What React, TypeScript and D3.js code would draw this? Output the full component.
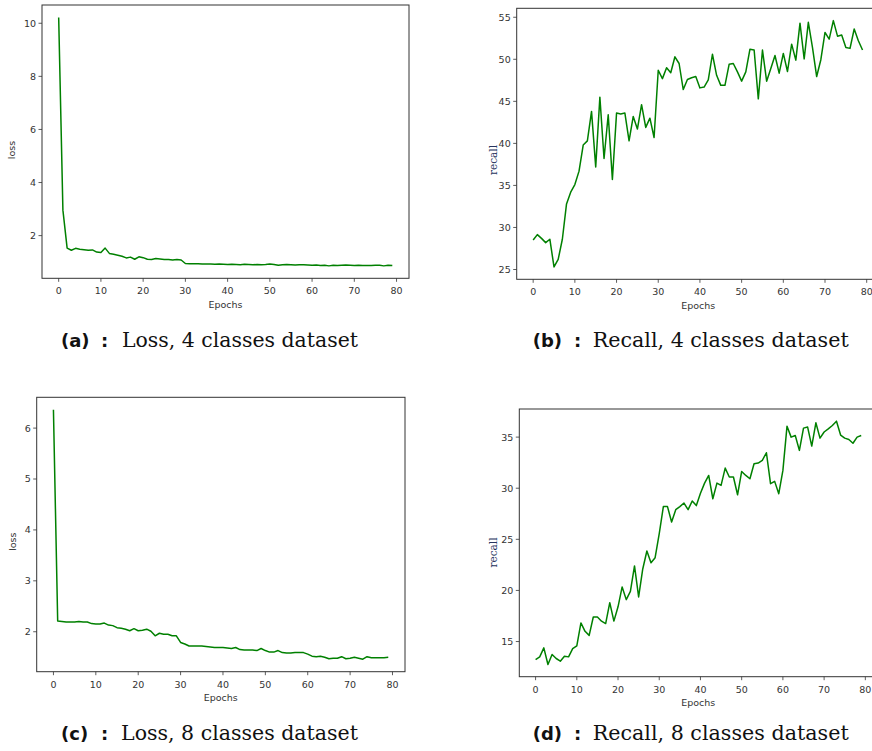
import React from 'react';
import * as d3 from 'd3';

const xTickValues = [0, 10, 20, 30, 40, 50, 60, 70, 80];

const lossTicks4 = [2, 4, 6, 8, 10];
const recallTicks4 = [25, 30, 35, 40, 45, 50, 55];
const lossTicks8 = [2, 3, 4, 5, 6];
const recallTicks8 = [15, 20, 25, 30, 35];

const loss4 = [10.22, 2.96, 1.53, 1.45, 1.52, 1.49, 1.47, 1.45, 1.46, 1.38,
  1.36, 1.53, 1.33, 1.30, 1.26, 1.22, 1.16, 1.19, 1.11, 1.20,
  1.17, 1.11, 1.10, 1.14, 1.12, 1.10, 1.10, 1.08, 1.10, 1.08,
  0.95, 0.94, 0.94, 0.94, 0.93, 0.93, 0.93, 0.92, 0.93, 0.92,
  0.91, 0.92, 0.91, 0.90, 0.92, 0.91, 0.90, 0.91, 0.90, 0.91,
  0.93, 0.91, 0.88, 0.90, 0.91, 0.90, 0.89, 0.90, 0.90, 0.89,
  0.88, 0.89, 0.87, 0.88, 0.86, 0.88, 0.87, 0.88, 0.89, 0.88,
  0.87, 0.88, 0.87, 0.87, 0.87, 0.88, 0.88, 0.86, 0.88, 0.87];

const recall4 = [28.5, 29.15, 28.7, 28.2, 28.6, 25.3, 26.2, 28.6, 32.8, 34.2,
  35.1, 36.7, 39.8, 40.3, 43.8, 37.2, 45.5, 38.2, 43.4, 35.7,
  43.6, 43.5, 43.6, 40.3, 43.2, 41.7, 44.6, 41.9, 43.0, 40.7,
  48.7, 47.7, 49.0, 48.4, 50.3, 49.5, 46.4, 47.6, 47.8, 47.95,
  46.6, 46.7, 47.55, 50.6, 48.1, 46.9, 46.9, 49.4, 49.5, 48.5,
  47.4, 48.5, 51.2, 51.1, 45.3, 51.1, 47.4, 48.9, 50.45, 48.35,
  50.7, 48.55, 51.8, 49.9, 54.3, 50.05, 54.4, 51.4, 47.95, 49.95,
  53.2, 52.4, 54.6, 52.75, 52.9, 51.4, 51.3, 53.6, 52.2, 51.1];

const loss8 = [6.36, 2.21, 2.20, 2.19, 2.19, 2.19, 2.20, 2.19, 2.19, 2.16,
  2.15, 2.15, 2.17, 2.13, 2.12, 2.08, 2.07, 2.05, 2.02, 2.06,
  2.02, 2.03, 2.05, 2.01, 1.92, 1.97, 1.95, 1.95, 1.92, 1.92,
  1.79, 1.76, 1.72, 1.72, 1.72, 1.72, 1.71, 1.70, 1.69, 1.69,
  1.69, 1.68, 1.67, 1.69, 1.65, 1.64, 1.64, 1.64, 1.63, 1.67,
  1.63, 1.60, 1.60, 1.63, 1.59, 1.58, 1.58, 1.59, 1.59, 1.59,
  1.56, 1.52, 1.51, 1.52, 1.50, 1.47, 1.48, 1.48, 1.51, 1.47,
  1.48, 1.50, 1.48, 1.46, 1.51, 1.49, 1.49, 1.49, 1.49, 1.50];

const recall8 = [13.24, 13.5, 14.38, 12.75, 13.73, 13.34, 13.08, 13.57, 13.5, 14.3,
  14.58, 16.82, 16.0, 15.6, 17.4, 17.4, 16.99, 16.76, 18.8, 17.0,
  18.4, 20.34, 19.1, 19.9, 22.4, 19.36, 22.1, 23.86, 22.7, 23.2,
  25.55, 28.2, 28.2, 26.7, 27.9, 28.2, 28.55, 27.9, 28.75, 28.3,
  29.5, 30.5, 31.25, 28.97, 30.5, 30.28, 31.97, 31.1, 31.1, 29.36,
  31.64, 31.25, 30.93, 32.4, 32.46, 32.72, 33.47, 30.44, 30.67, 29.46,
  31.74, 36.07, 35.0, 35.16, 33.7, 35.88, 35.98, 34.12, 36.4, 34.9,
  35.5, 35.8, 36.14, 36.56, 35.2, 34.9, 34.77, 34.4, 35.0, 35.16];

const captionTags = ['(a)', '(b)', '(c)', '(d)'];
const captionTexts = ['Loss, 4 classes dataset', 'Recall, 4 classes dataset', 'Loss, 8 classes dataset', 'Recall, 8 classes dataset'];
const yLabels = ['loss', 'recall', 'loss', 'recall'];

type PanelCfg = {
  left: number; right: number; top: number; bottom: number;
  data: number[]; yTicks: number[]; ylabel: string; serifLabel: boolean;
  ylabelX: number; ylabelY: number; xlabelX: number; xlabelY: number;
  tag: string; caption: string; tagX: number; colonX: number; capX: number; capW: number; capY: number;
};

const SANS = "'DejaVu Sans', sans-serif";
const SERIF = "'DejaVu Serif', serif";
const AX = '#333333';

function Panel({ c }: { c: PanelCfg }) {
  const n = c.data.length;
  const xPad = (n - 1) * 0.05;
  const x = d3.scaleLinear().domain([-xPad, n - 1 + xPad]).range([c.left, c.right]);
  const [mn, mx] = d3.extent(c.data) as [number, number];
  const yPad = (mx - mn) * 0.05;
  const y = d3.scaleLinear().domain([mn - yPad, mx + yPad]).range([c.bottom, c.top]);
  const line = d3.line<number>().x((_, i) => x(i)).y((d) => y(d));
  return (
    <g>
      <path d={line(c.data) || ''} fill="none" stroke="#008000" strokeWidth={1.5} strokeLinejoin="round" />
      <rect x={c.left} y={c.top} width={c.right - c.left} height={c.bottom - c.top} fill="none" stroke={AX} strokeWidth={1} />
      {xTickValues.map((t) => (
        <g key={'x' + t}>
          <line x1={x(t)} x2={x(t)} y1={c.bottom} y2={c.bottom + 3.5} stroke={AX} strokeWidth={0.8} />
          <text x={x(t)} y={c.bottom + 16} textAnchor="middle" fontFamily={SANS} fontSize={9.5} fill={AX}>{t}</text>
        </g>
      ))}
      {c.yTicks.map((t) => (
        <g key={'y' + t}>
          <line x1={c.left - 3.5} x2={c.left} y1={y(t)} y2={y(t)} stroke={AX} strokeWidth={0.8} />
          <text x={c.left - 6} y={y(t) + 3.4} textAnchor="end" fontFamily={SANS} fontSize={9.5} fill={AX}>{t}</text>
        </g>
      ))}
      <text x={c.xlabelX} y={c.xlabelY} textAnchor="middle" fontFamily={SANS} fontSize={9.5} fill={AX}>Epochs</text>
      <text transform={`translate(${c.ylabelX},${c.ylabelY}) rotate(-90)`} textAnchor="middle"
        fontFamily={c.serifLabel ? SERIF : SANS} fontSize={c.serifLabel ? 10.5 : 9.5}
        fill={c.serifLabel ? '#27345e' : AX}>{c.ylabel}</text>
      <text x={c.tagX} y={c.capY} fontFamily={SANS} fontWeight="bold" fontSize={18} fill="#111">{c.tag}</text>
      <text x={c.colonX} y={c.capY} fontFamily={SANS} fontWeight="bold" fontSize={18} fill="#111">:</text>
      <text x={c.capX} y={c.capY} fontFamily={SERIF} fontSize={20.5} fill="#111"
        textLength={c.capW} lengthAdjust="spacingAndGlyphs">{c.caption}</text>
    </g>
  );
}

export default function App() {
  const panels: PanelCfg[] = [
    { left: 42, right: 409, top: 5, bottom: 278.3, data: loss4, yTicks: lossTicks4, ylabel: yLabels[0], serifLabel: false,
      ylabelX: 15, ylabelY: 150, xlabelX: 225.5, xlabelY: 308, tag: captionTags[0], caption: captionTexts[0],
      tagX: 61, colonX: 101, capX: 122, capW: 236, capY: 347 },
    { left: 516.7, right: 879, top: 8.3, bottom: 279.3, data: recall4, yTicks: recallTicks4, ylabel: yLabels[1], serifLabel: true,
      ylabelX: 497, ylabelY: 160, xlabelX: 698.3, xlabelY: 308.5, tag: captionTags[1], caption: captionTexts[1],
      tagX: 532.7, colonX: 574, capX: 592.7, capW: 256, capY: 347 },
    { left: 36.7, right: 405, top: 397.3, bottom: 671.7, data: loss8, yTicks: lossTicks8, ylabel: yLabels[2], serifLabel: false,
      ylabelX: 15.5, ylabelY: 541.7, xlabelX: 220.8, xlabelY: 700.5, tag: captionTags[2], caption: captionTexts[2],
      tagX: 61, colonX: 101, capX: 121, capW: 237, capY: 740 },
    { left: 519.3, right: 877.5, top: 409, bottom: 676.7, data: recall8, yTicks: recallTicks8, ylabel: yLabels[3], serifLabel: true,
      ylabelX: 497, ylabelY: 552.5, xlabelX: 698.3, xlabelY: 706, tag: captionTags[3], caption: captionTexts[3],
      tagX: 532.7, colonX: 574, capX: 592.7, capW: 256, capY: 740 },
  ];
  return (
    <svg width={872} height={751} viewBox="0 0 872 751"
      style={{ position: 'absolute', left: 0, top: 0, background: '#fff' }}>
      <rect x={0} y={0} width={872} height={751} fill="#fff" />
      {panels.map((p, i) => <Panel key={i} c={p} />)}
    </svg>
  );
}
